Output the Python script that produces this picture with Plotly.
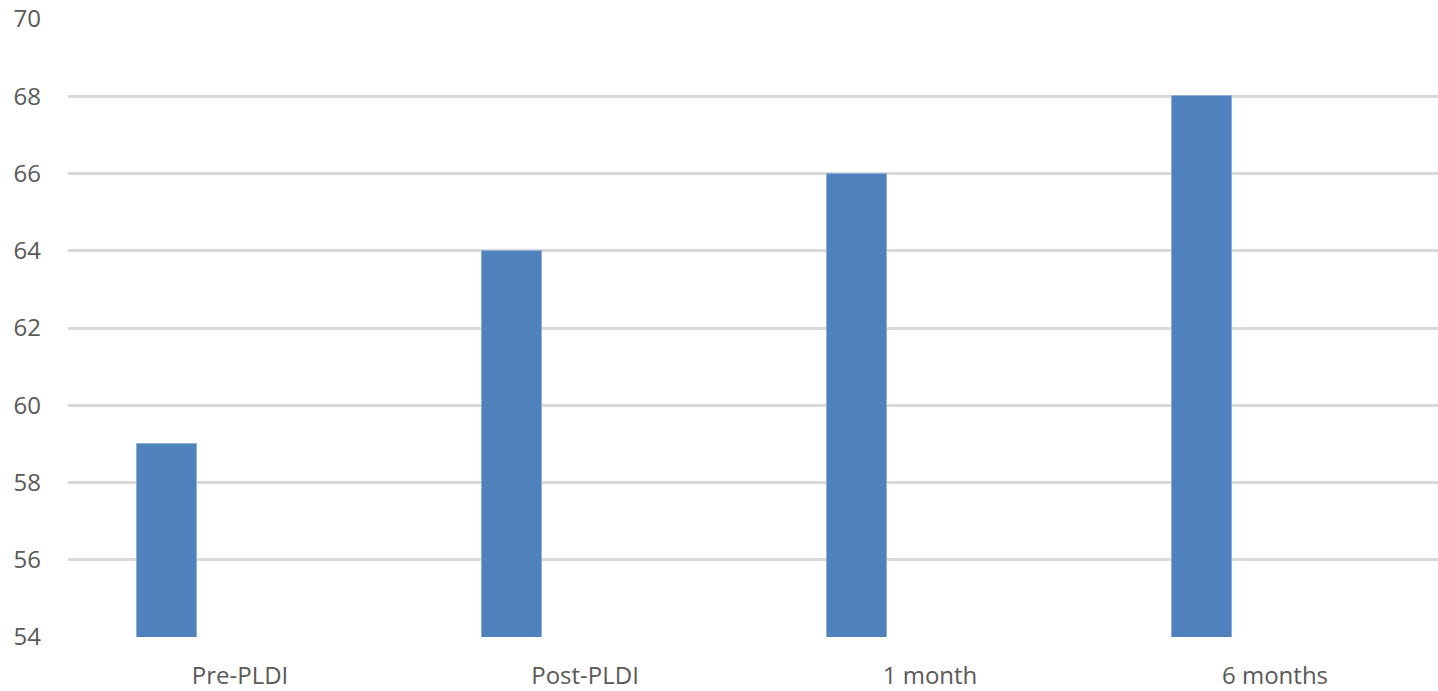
import plotly.graph_objects as go

categories = ["Pre-PLDI", "Post-PLDI", "1 month", "6 months"]
scores = [59, 64, 66, 68]
y_ticks = [54, 56, 58, 60, 62, 64, 66, 68, 70]

fig = go.Figure()
fig.add_trace(go.Bar(
    x=categories,
    y=scores,
    width=0.172,
    offset=-0.298,
    marker=dict(color="#4F81BD", line=dict(color="#8FB0DA", width=1)),
    showlegend=False,
))

fig.update_layout(
    width=1438,
    height=691,
    margin=dict(l=68, r=0, t=19, b=52),
    paper_bgcolor="white",
    plot_bgcolor="white",
    font=dict(family="Open Sans", size=24, color="#595959"),
    bargap=0,
)
fig.update_xaxes(
    type="category",
    range=[-0.4986, -0.4986 + 1370 / 345],
    showgrid=False,
    zeroline=False,
    showline=False,
    ticks="",
    ticklabelstandoff=22,
    tickfont=dict(size=24, color="#595959"),
)
fig.update_yaxes(
    range=[54, 70],
    tickvals=y_ticks,
    showgrid=True,
    gridcolor="#D9D9D9",
    gridwidth=2.5,
    zeroline=False,
    showline=False,
    ticks="",
    ticklabelstandoff=26,
    tickfont=dict(size=24, color="#595959"),
)

fig.write_html("out.html")
